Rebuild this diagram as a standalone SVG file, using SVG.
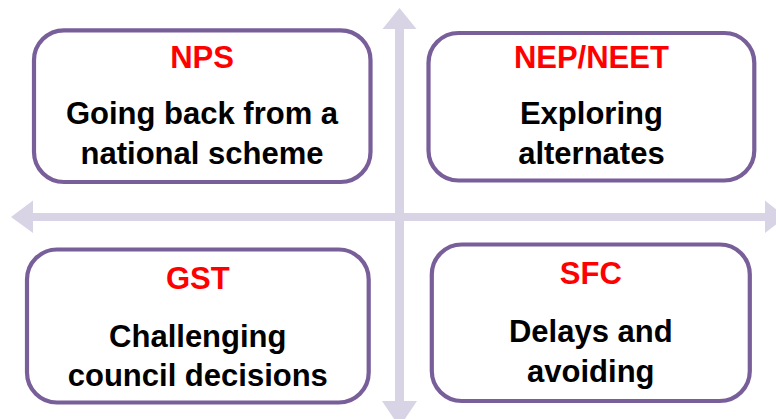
<svg xmlns="http://www.w3.org/2000/svg" width="776" height="419" viewBox="0 0 776 419">
<style>
.box{fill:#ffffff;stroke:#785F9A;stroke-width:4.2}
.t{font-family:"Liberation Sans",Arial,sans-serif;font-weight:bold;font-size:31px;text-anchor:middle}
.title{fill:#FF0000}
.body{fill:#000000}
.axis{fill:#D8D4E6}
</style>
<rect width="776" height="419" fill="#ffffff"/>
<g id="connectors">
<polygon class="axis" points="399.5,8 416.5,29 404,29 404,401 417,401 399.5,427 382,401 395,401 395,29 382.5,29"/>
<polygon class="axis" points="11,217 33,200.5 33,213 765,213 765,200.5 786,217 765,233 765,221 33,221 33,233"/>
</g>
<g id="node-nps">
<rect class="box" x="34" y="30.3" width="336.5" height="151.7" rx="30"/>
<text class="t title" x="202" y="67.5">NPS</text>
<text class="t body" x="202" y="124">Going back from a</text>
<text class="t body" x="202" y="164">national scheme</text>
</g>
<g id="node-nep">
<rect class="box" x="428.5" y="33" width="325.8" height="147.5" rx="30"/>
<text class="t title" x="591.4" y="68">NEP/NEET</text>
<text class="t body" x="591.4" y="124">Exploring</text>
<text class="t body" x="591.4" y="164">alternates</text>
</g>
<g id="node-gst">
<rect class="box" x="27" y="249.5" width="341.7" height="153" rx="30"/>
<text class="t title" x="197.8" y="289">GST</text>
<text class="t body" x="197.8" y="346.5">Challenging</text>
<text class="t body" x="197.8" y="385.5">council decisions</text>
</g>
<g id="node-sfc">
<rect class="box" x="431.8" y="244.5" width="318" height="156.5" rx="30"/>
<text class="t title" x="590.8" y="283.5">SFC</text>
<text class="t body" x="590.8" y="341.5">Delays and</text>
<text class="t body" x="590.8" y="381.5">avoiding</text>
</g>
</svg>
